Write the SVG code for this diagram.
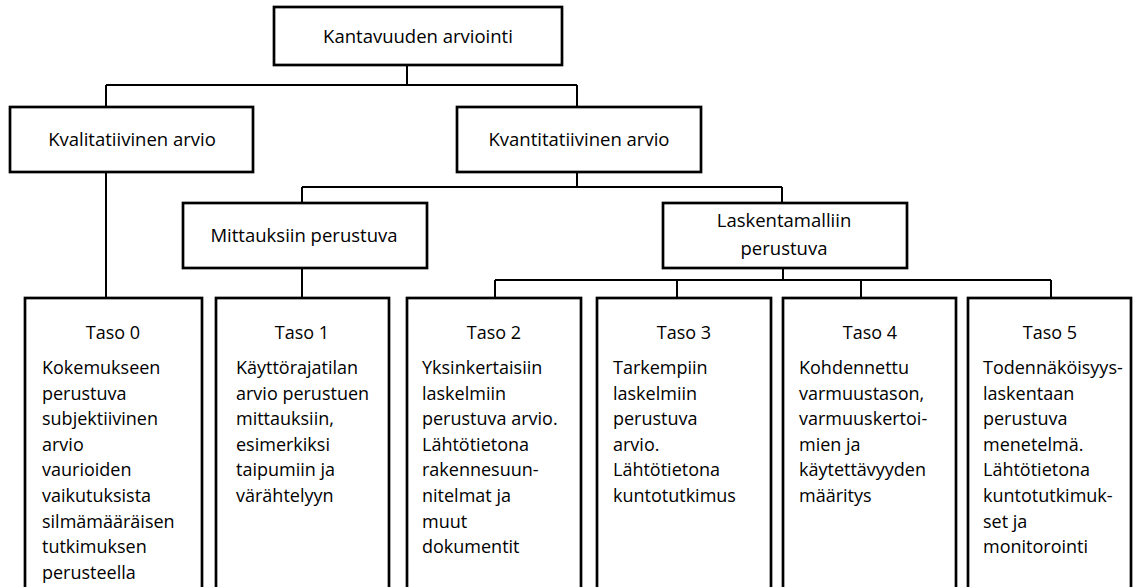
<svg xmlns="http://www.w3.org/2000/svg" width="1138" height="587" viewBox="0 0 1138 587">
<style>
.box{fill:#fff;stroke:#000;stroke-width:2.7}
.lbl{font-family:"Open Sans","Noto Sans",sans-serif;font-size:18.5px;fill:#000;text-anchor:middle}
.t{font-family:"Open Sans","Noto Sans",sans-serif;font-size:18px;fill:#000}
.tc{text-anchor:middle}
.con{fill:none;stroke:#000;stroke-width:2}
</style>
<rect width="1138" height="587" fill="#fff"/>
<g id="connectors">
<path class="con" d="M407,65 V85 M106,85 H577 M106,85 V107 M577,85 V107"/>
<path class="con" d="M106,172 V298"/>
<path class="con" d="M577,172 V187 M302,187 H782 M302,187 V203 M782,187 V203"/>
<path class="con" d="M302,268 V298"/>
<path class="con" d="M783,268 V280 M495,280 H1051 M495,280 V298 M677,280 V298 M861,280 V298 M1051,280 V298"/>
</g>
<g id="root">
<rect class="box" x="274" y="7" width="288" height="58"/>
<text class="lbl" x="418" y="43">Kantavuuden arviointi</text>
</g>
<g id="kvalitatiivinen">
<rect class="box" x="10" y="107" width="243" height="65"/>
<text class="lbl" x="132" y="146">Kvalitatiivinen arvio</text>
</g>
<g id="kvantitatiivinen">
<rect class="box" x="457" y="107" width="244" height="65"/>
<text class="lbl" x="579" y="146">Kvantitatiivinen arvio</text>
</g>
<g id="mittauksiin">
<rect class="box" x="183" y="203" width="244" height="65"/>
<text class="lbl" x="304" y="242">Mittauksiin perustuva</text>
</g>
<g id="laskentamalliin">
<rect class="box" x="663" y="203" width="244" height="65"/>
<text class="lbl" x="784" y="227">Laskentamalliin</text>
<text class="lbl" x="784" y="255">perustuva</text>
</g>
<g id="taso0">
<rect class="box" x="25" y="298" width="177" height="310"/>
<text class="t tc" x="113" y="339">Taso 0</text>
<text class="t" x="42" y="374">Kokemukseen</text>
<text class="t" x="42" y="400">perustuva</text>
<text class="t" x="42" y="425">subjektiivinen</text>
<text class="t" x="42" y="451">arvio</text>
<text class="t" x="42" y="476">vaurioiden</text>
<text class="t" x="42" y="502">vaikutuksista</text>
<text class="t" x="42" y="528">silmämääräisen</text>
<text class="t" x="42" y="553">tutkimuksen</text>
<text class="t" x="42" y="579">perusteella</text>
</g>
<g id="taso1">
<rect class="box" x="216" y="298" width="173" height="310"/>
<text class="t tc" x="302" y="339">Taso 1</text>
<text class="t" x="236" y="374">Käyttörajatilan</text>
<text class="t" x="236" y="400">arvio perustuen</text>
<text class="t" x="236" y="425">mittauksiin,</text>
<text class="t" x="236" y="451">esimerkiksi</text>
<text class="t" x="236" y="476">taipumiin ja</text>
<text class="t" x="236" y="502">värähtelyyn</text>
</g>
<g id="taso2">
<rect class="box" x="407" y="298" width="174" height="310"/>
<text class="t tc" x="494" y="339">Taso 2</text>
<text class="t" x="422" y="374">Yksinkertaisiin</text>
<text class="t" x="422" y="400">laskelmiin</text>
<text class="t" x="422" y="425">perustuva arvio.</text>
<text class="t" x="422" y="451">Lähtötietona</text>
<text class="t" x="422" y="476">rakennesuun-</text>
<text class="t" x="422" y="502">nitelmat ja</text>
<text class="t" x="422" y="528">muut</text>
<text class="t" x="422" y="553">dokumentit</text>
</g>
<g id="taso3">
<rect class="box" x="597" y="298" width="174" height="310"/>
<text class="t tc" x="684" y="339">Taso 3</text>
<text class="t" x="613" y="374">Tarkempiin</text>
<text class="t" x="613" y="400">laskelmiin</text>
<text class="t" x="613" y="425">perustuva</text>
<text class="t" x="613" y="451">arvio.</text>
<text class="t" x="613" y="476">Lähtötietona</text>
<text class="t" x="613" y="502">kuntotutkimus</text>
</g>
<g id="taso4">
<rect class="box" x="783" y="298" width="173" height="310"/>
<text class="t tc" x="870" y="339">Taso 4</text>
<text class="t" x="799" y="374">Kohdennettu</text>
<text class="t" x="799" y="400">varmuustason,</text>
<text class="t" x="799" y="425">varmuuskertoi-</text>
<text class="t" x="799" y="451">mien ja</text>
<text class="t" x="799" y="476">käytettävyyden</text>
<text class="t" x="799" y="502">määritys</text>
</g>
<g id="taso5">
<rect class="box" x="968" y="298" width="163" height="310"/>
<text class="t tc" x="1050" y="339">Taso 5</text>
<text class="t" x="983" y="374">Todennäköisyys-</text>
<text class="t" x="983" y="400">laskentaan</text>
<text class="t" x="983" y="425">perustuva</text>
<text class="t" x="983" y="451">menetelmä.</text>
<text class="t" x="983" y="476">Lähtötietona</text>
<text class="t" x="983" y="502">kuntotutkimuk-</text>
<text class="t" x="983" y="528">set ja</text>
<text class="t" x="983" y="553">monitorointi</text>
</g>
</svg>
